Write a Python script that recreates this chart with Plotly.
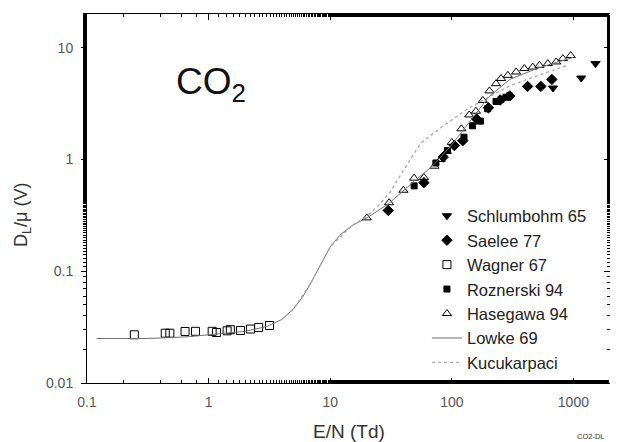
import plotly.graph_objects as go
import numpy as np

# ---- data ----
schlumbohm_x = [680, 1160, 1520]
schlumbohm_y = [4.35, 5.35, 7.2]

saelee_x = [30, 59, 85, 105, 123, 160, 200, 250, 300, 420, 540, 665]
saelee_y = [0.35, 0.62, 1.05, 1.33, 1.47, 2.3, 2.9, 3.4, 3.7, 4.5, 4.5, 5.2]

wagner_x = [0.245, 0.44, 0.48, 0.64, 0.78, 1.07, 1.16, 1.42, 1.51, 1.83, 2.21, 2.58, 3.17]
wagner_y = [0.027, 0.0279, 0.0279, 0.0289, 0.029, 0.029, 0.0283, 0.0293, 0.030, 0.0295, 0.0304, 0.0314, 0.0327]

roznerski_x = [49, 74, 92, 126, 148, 172, 197, 231, 254, 279, 297]
roznerski_y = [0.58, 0.93, 1.2, 1.58, 2.0, 2.2, 2.84, 3.3, 3.45, 3.6, 3.7]

hasegawa_x = [20, 30.5, 40, 49, 59, 72, 81, 91, 100, 120, 139, 158, 180, 204, 231, 254,
              289, 338, 395, 463, 526, 616, 722, 819, 950]
hasegawa_y = [0.30, 0.41, 0.53, 0.68, 0.69, 0.87, 1.0, 1.18, 1.42, 1.88, 2.5, 2.7, 3.37, 4.1,
              4.76, 5.3, 5.65, 6.06, 6.5, 6.7, 6.95, 7.2, 7.45, 7.98, 8.5]

lowke_x = [0.12, 0.2, 0.3, 0.5, 0.7, 1, 1.5, 2, 3, 4, 5, 6, 7, 8, 9, 10, 12, 15, 20,
           30, 50, 70, 100, 150, 200, 300, 500, 700, 1000]
lowke_y = [0.025, 0.025, 0.025, 0.0255, 0.026, 0.027, 0.028, 0.029, 0.032, 0.037, 0.046,
           0.06, 0.08, 0.105, 0.135, 0.165, 0.21, 0.255, 0.30, 0.40, 0.65, 0.88, 1.35, 2.4,
           3.6, 5.2, 6.5, 7.3, 8.2]

kucu_x = [4, 5, 7, 10, 15, 20, 25, 31.5, 40, 55.6, 80, 100, 135, 200, 307, 500, 900]
kucu_y = [0.037, 0.046, 0.08, 0.165, 0.255, 0.31, 0.39, 0.52, 0.8, 1.4, 1.9, 2.25, 2.84, 3.6, 4.6, 5.6, 6.95]

x_ticks = [0.1, 1, 10, 100, 1000]
x_tick_text = ["0.1", "1", "10", "100", "1000"]
y_ticks = [0.01, 0.1, 1, 10]
y_tick_text = ["0.01", "0.1", "1", "10"]

FONT = "Liberation Sans, Arial, sans-serif"

# the page body adds an 8px margin, so the figure is drawn 8px right/down
OFF = 8
W, H = 618 - OFF, 442 - OFF
# desired plot area in screen pixels
SL, SR, ST, SB = 87, 610, 14, 383
L, T = SL - OFF, ST - OFF
R, B = W - (SR - OFF), H - (SB - OFF)
PW, PH = W - L - R, H - T - B

fig = go.Figure()

def mk(name, x, y, symbol, size=8):
    fig.add_trace(go.Scatter(
        x=x, y=y, mode="markers", name=name,
        marker=dict(symbol=symbol, size=size, color="black",
                    line=dict(color="black", width=1)),
    ))

mk("Schlumbohm 65", schlumbohm_x, schlumbohm_y, "triangle-down", 8)
mk("Saelee 77", saelee_x, saelee_y, "diamond", 8)
mk("Wagner 67", wagner_x, wagner_y, "square-open", 8)
mk("Roznerski 94", roznerski_x, roznerski_y, "square", 6)
mk("Hasegawa 94", hasegawa_x, hasegawa_y, "triangle-up-open", 8)

fig.add_trace(go.Scatter(x=lowke_x, y=lowke_y, mode="lines", name="Lowke 69",
                         line=dict(color="#707070", width=1)))
fig.add_trace(go.Scatter(x=kucu_x, y=kucu_y, mode="lines", name="Kucukarpaci",
                         line=dict(color="#a8a8a8", width=1.3, dash="dot")))

# dummy trace for the mirrored (top/right) axes
fig.add_trace(go.Scatter(x=[1], y=[1], xaxis="x2", yaxis="y2", mode="markers",
                         marker=dict(opacity=0), showlegend=False, hoverinfo="skip"))

xr = [-1, np.log10(2000)]
yr = [-2, np.log10(20)]

tickfont = dict(family=FONT, size=14, color="#555")

def px_x(sx):
    return (sx - OFF - L) / PW

def px_y(sy):
    return (H - B - (sy - OFF)) / PH

fig.update_layout(
    width=W, height=H,
    margin=dict(l=L, r=R, t=T, b=B),
    paper_bgcolor="white", plot_bgcolor="white",
    font=dict(family=FONT, color="#333"),
    xaxis=dict(type="log", range=xr, tickvals=x_ticks, ticktext=x_tick_text,
               tickfont=tickfont, showgrid=False, zeroline=False, automargin=False,
               showline=True, linecolor="black", linewidth=1, mirror=True,
               ticks="inside", ticklen=5, tickcolor="black", ticklabelstandoff=6,
               minor=dict(ticks="inside", ticklen=3, tickcolor="black", showgrid=False)),
    yaxis=dict(type="log", range=yr, tickvals=y_ticks, ticktext=y_tick_text,
               tickfont=tickfont, showgrid=False, zeroline=False, automargin=False,
               showline=True, linecolor="black", linewidth=1, mirror=True,
               ticks="outside", ticklen=5, tickcolor="black", ticklabelstandoff=5,
               minor=dict(ticks="outside", ticklen=3, tickcolor="black", showgrid=False)),
    xaxis2=dict(type="log", range=xr, overlaying="x", side="top", anchor="y",
                tickvals=x_ticks, showticklabels=False, showgrid=False, zeroline=False,
                automargin=False, ticks="inside", ticklen=6, tickcolor="black",
                minor=dict(ticks="inside", ticklen=3, tickcolor="black", showgrid=False)),
    yaxis2=dict(type="log", range=yr, overlaying="y", side="right", anchor="x",
                tickvals=y_ticks, showticklabels=False, showgrid=False, zeroline=False,
                automargin=False, ticks="inside", ticklen=6, tickcolor="black",
                minor=dict(ticks="inside", ticklen=3, tickcolor="black", showgrid=False)),
    legend=dict(x=0.650, y=0.500, xanchor="left", yanchor="top",
                bgcolor="rgba(0,0,0,0)", borderwidth=0,
                font=dict(family=FONT, size=16.5, color="#222"),
                tracegroupgap=0, itemwidth=30),
    showlegend=True,
)

fig.add_annotation(text="CO<sub>2</sub>", x=px_x(174), y=px_y(59), xref="paper", yref="paper",
                   xanchor="left", yanchor="top", showarrow=False,
                   font=dict(family=FONT, size=37, color="#111"))
fig.add_annotation(text="E/N (Td)", x=px_x(349), y=px_y(431), xref="paper", yref="paper",
                   xanchor="center", yanchor="middle", showarrow=False,
                   font=dict(family=FONT, size=19, color="#333"))
fig.add_annotation(text="D<sub>L</sub>/\u03bc (V)", x=px_x(22), y=px_y(215), xref="paper", yref="paper",
                   xanchor="center", yanchor="middle", showarrow=False, textangle=-90,
                   font=dict(family=FONT, size=18, color="#333"))
fig.add_annotation(text="CO2-DL", x=px_x(607), y=px_y(437), xref="paper", yref="paper",
                   xanchor="right", yanchor="middle", showarrow=False,
                   font=dict(family=FONT, size=7.5, color="#333"))

fig.write_html("out.html")
